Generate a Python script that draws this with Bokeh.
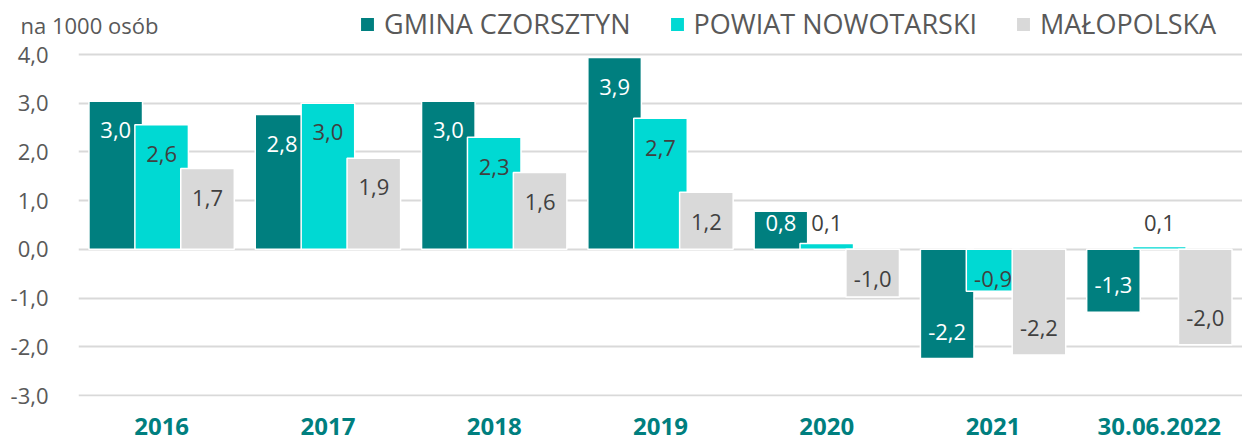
from bokeh.plotting import figure
from bokeh.models import (ColumnDataSource, FactorRange, Range1d, FixedTicker, Legend,
                          LegendItem, Title)
from bokeh.transform import dodge
from bokeh.core.properties import value
from bokeh.embed import file_html
from bokeh.resources import INLINE

years = ["2016", "2017", "2018", "2019", "2020", "2021", "30.06.2022"]
gmina = [3.04, 2.77, 3.04, 3.94, 0.78, -2.24, -1.29]
powiat = [2.56, 3.00, 2.30, 2.69, 0.12, -0.86, 0.06]
malopolska = [1.66, 1.87, 1.58, 1.17, -0.98, -2.17, -1.96]
series_names = ["GMINA CZORSZTYN", "POWIAT NOWOTARSKI", "MAŁOPOLSKA"]
y_ticks = [-3, -2, -1, 0, 1, 2, 3, 4]
y_tick_labels = ["-3,0", "-2,0", "-1,0", "0,0", "1,0", "2,0", "3,0", "4,0"]
unit_label = "na 1000 osób"

FONT = "Open Sans"
colors = ["#007F7F", "#00D9D3", "#D9D9D9"]
label_colors = ["#FFFFFF", "#404040", "#404040"]
offsets = [-0.276, 0.0, 0.276]
BAR_W = 0.322

p = figure(x_range=FactorRange(*years), y_range=Range1d(-3.0205, 5.1085),
           width=1242, height=443, output_backend="svg", toolbar_location=None,
           min_border_left=78, min_border_right=0, min_border_top=0, min_border_bottom=47)
p.outline_line_color = None
p.background_fill_color = "white"
p.border_fill_color = "white"
p.title = Title(text=unit_label, align="left", offset=-58, standoff=-78, vertical_align="bottom",
                text_font=FONT, text_font_size="22px", text_font_style="normal",
                text_color="#595959")


def fmt(v):
    return f"{v:.1f}".replace(".", ",")


def label_y(v):
    if v >= 0:
        return max(v - 0.6, 0.55)
    return min(v + 0.55, -0.6)


items = []
for name, vals, col, lcol, off in zip(series_names, [gmina, powiat, malopolska],
                                       colors, label_colors, offsets):
    src = ColumnDataSource(dict(
        year=years, val=vals,
        lab=[fmt(v) for v in vals],
        ly=[label_y(v) for v in vals],
        tcol=[lcol if (abs(v) > 0.5) else "#404040" for v in vals],
    ))
    r = p.vbar(x=dodge("year", off, range=p.x_range), top="val", bottom=0, width=BAR_W,
               source=src, fill_color=col, line_color="white", line_width=1.5)
    p.text(x=dodge("year", off, range=p.x_range), y="ly", text="lab", source=src,
           text_align="center", text_baseline="middle", text_font=value(FONT),
           text_font_size="22px", text_color="tcol")
    items.append(LegendItem(label=name, renderers=[r]))

legend = Legend(items=items, orientation="horizontal", location=(280, 354),
                label_text_font=FONT, label_text_font_size="27px", label_text_color="#595959",
                glyph_width=18, glyph_height=18, label_standoff=8, spacing=37,
                padding=0, margin=0, border_line_color=None, background_fill_alpha=0)
p.add_layout(legend)

p.xgrid.grid_line_color = None
p.ygrid.grid_line_color = "#D9D9D9"
p.ygrid.grid_line_width = 2
p.yaxis.ticker = FixedTicker(ticks=y_ticks)
p.yaxis.major_label_overrides = {t: s for t, s in zip(y_ticks, y_tick_labels)}
p.yaxis.axis_line_color = None
p.yaxis.major_tick_line_color = None
p.yaxis.minor_tick_line_color = None
p.yaxis.major_label_text_font = FONT
p.yaxis.major_label_text_font_size = "22px"
p.yaxis.major_label_text_color = "#595959"
p.yaxis.major_label_standoff = 24

p.xaxis.axis_line_color = None
p.xaxis.major_tick_line_color = None
p.xaxis.minor_tick_line_color = None
p.xaxis.major_label_text_font = FONT
p.xaxis.major_label_text_font_size = "24px"
p.xaxis.major_label_text_font_style = "bold"
p.xaxis.major_label_text_color = "#007F7F"
p.xaxis.major_label_standoff = 15

open("out.html", "w").write(file_html(p, INLINE))
